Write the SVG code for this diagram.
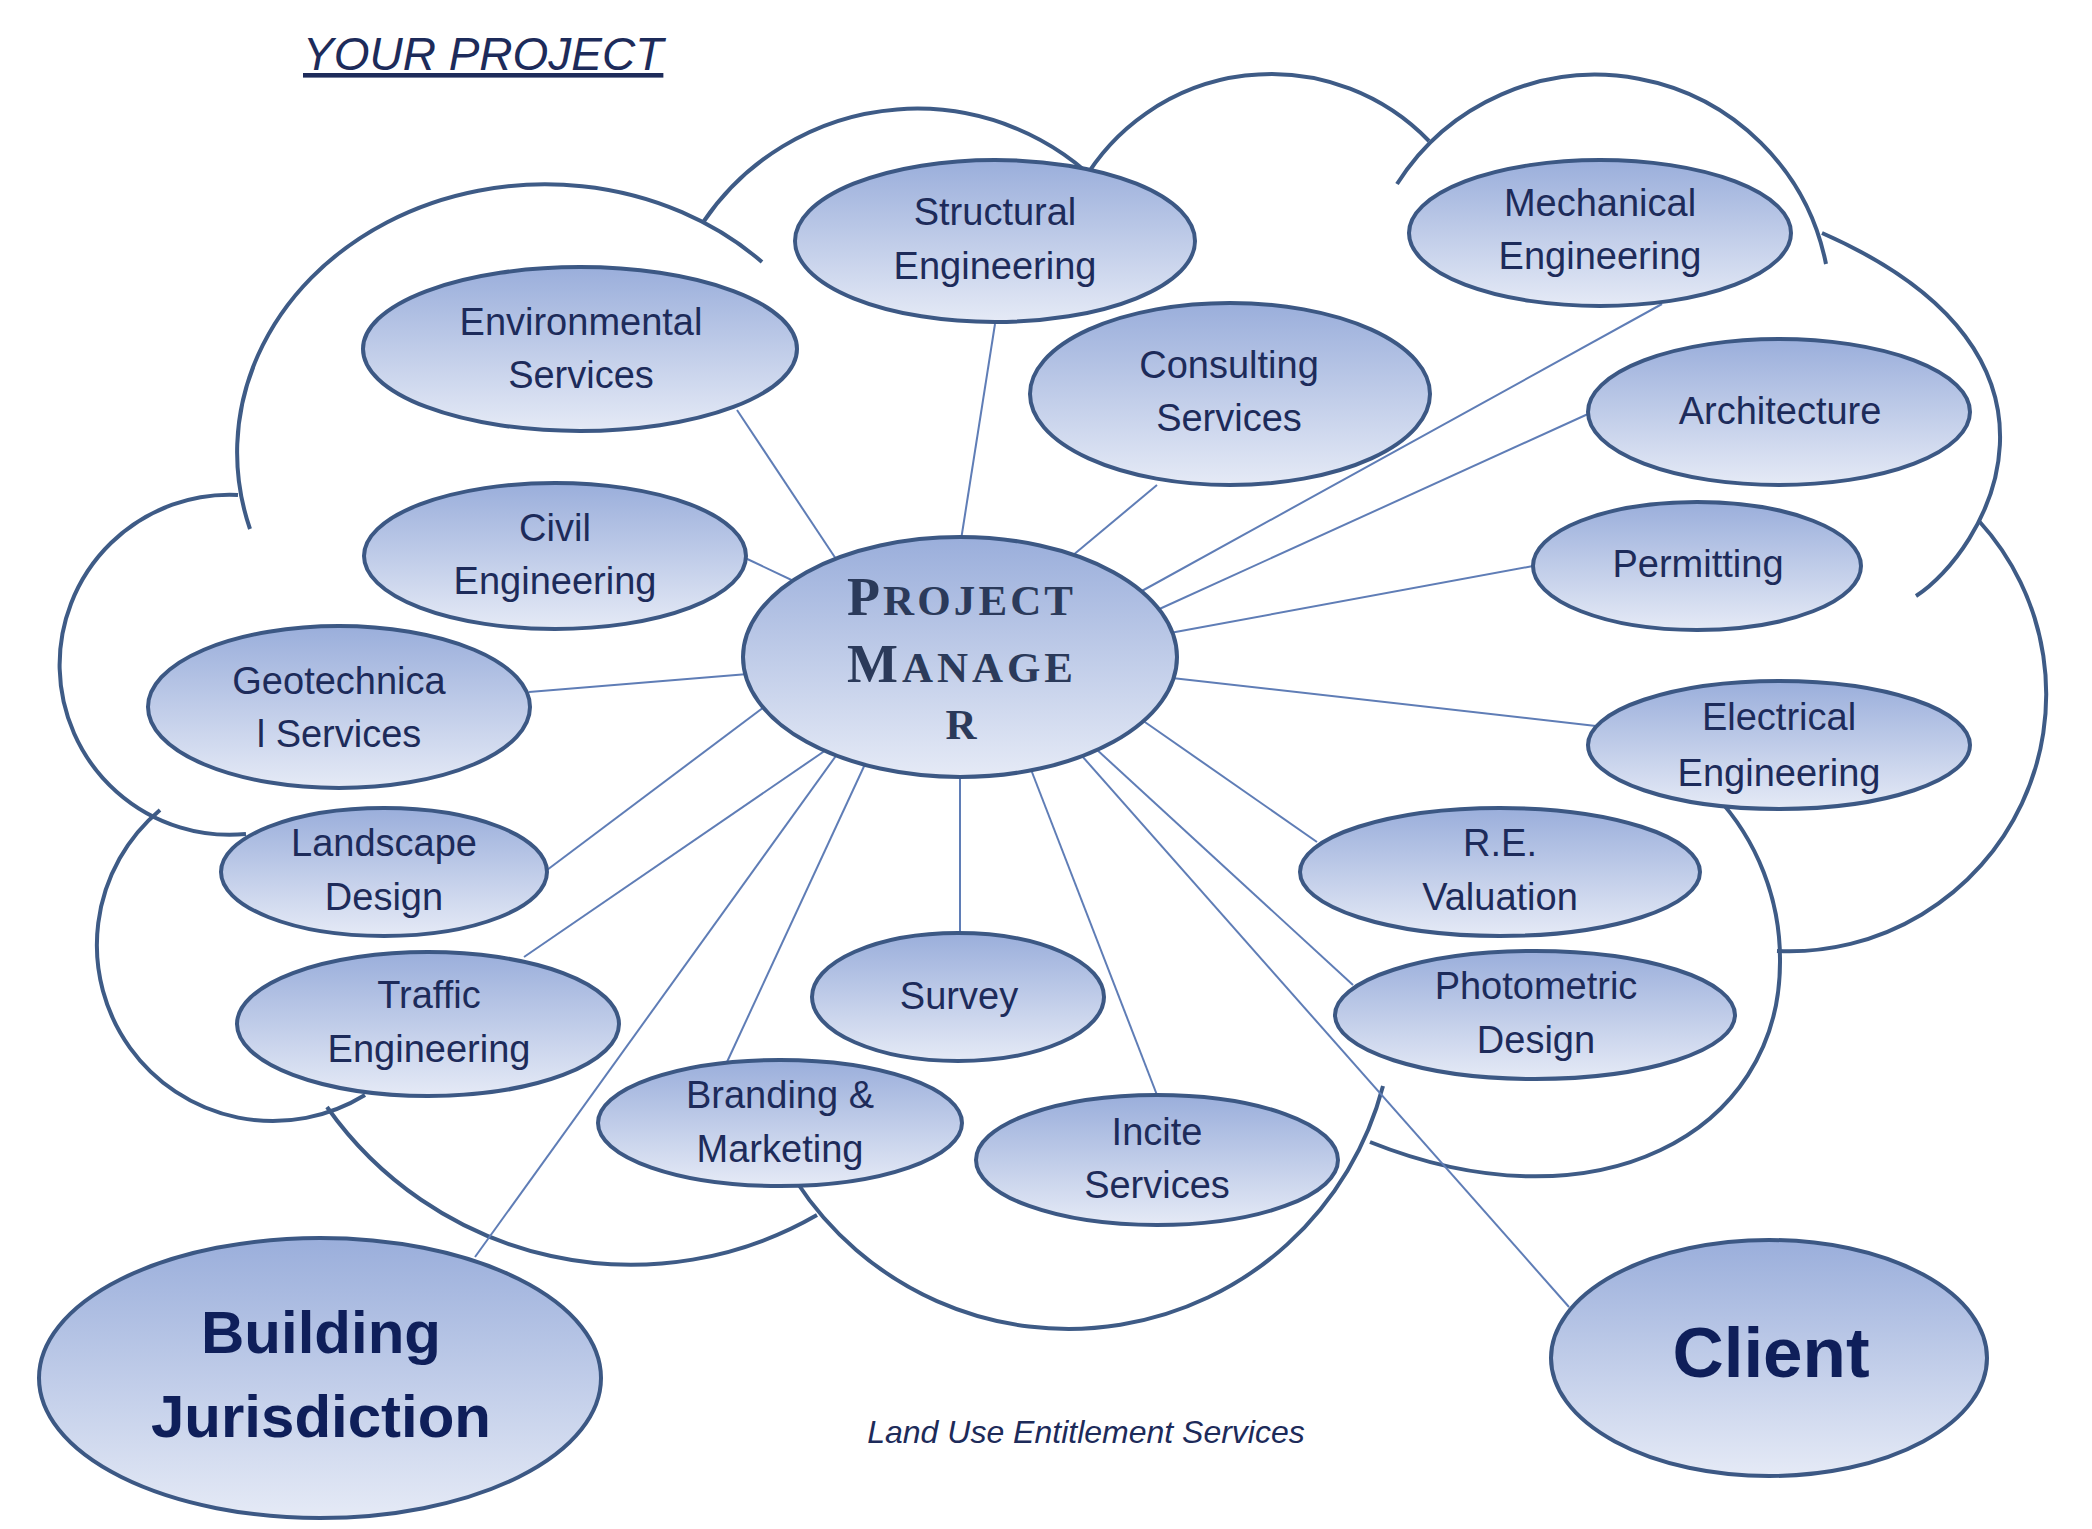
<svg xmlns="http://www.w3.org/2000/svg" width="2092" height="1529" viewBox="0 0 2092 1529">
<defs>
<linearGradient id="g" x1="0" y1="0" x2="0" y2="1">
<stop offset="0" stop-color="#9aaedb"/>
<stop offset="1" stop-color="#e5eaf6"/>
</linearGradient>
<style>
.cloud path{fill:none;stroke:#3e5b86;stroke-width:4;stroke-linecap:butt}
.conn line{stroke:#5f7db6;stroke-width:2}
.node ellipse{fill:url(#g);stroke:#3c5884;stroke-width:4}
.lbl{font-family:"Liberation Sans",Arial,sans-serif;font-size:38px;fill:#1d2b5a;text-anchor:middle}
.big{font-family:"Liberation Sans",Arial,sans-serif;font-weight:bold;fill:#0f1f5a;text-anchor:middle}
.pm{font-family:"Liberation Serif","Times New Roman",serif;font-weight:bold;fill:#2b3a5a;text-anchor:middle}
.cap{font-size:54px}
.sc{font-size:43px}
.note{font-family:"Liberation Sans",Arial,sans-serif;font-style:italic;fill:#1d2b5a}
</style>
</defs>
<rect width="2092" height="1529" fill="#ffffff"/>
<text class="note" x="303" y="70" font-size="46" text-decoration="underline">YOUR PROJECT</text>
<g class="cloud" id="cloud">
<path d="M 250 529 A 308 268 0 0 1 762 262"/>
<path d="M 704 221 A 258 258 0 0 1 1105 190"/>
<path d="M 1082 183 A 219 219 0 0 1 1429 141"/>
<path d="M 1397 184 A 235 235 0 0 1 1826 264"/>
<path d="M 1822 233 C 2104 357 1983 553 1916 596"/>
<path d="M 1979 521 A 257 257 0 0 1 1777 951"/>
<path d="M 1715 795 A 240 240 0 0 1 1780 962 C 1780 1133 1597 1233 1370 1142"/>
<path d="M 796 1181 A 325 325 0 0 0 1383 1086"/>
<path d="M 327 1107 A 372 372 0 0 0 817 1215"/>
<path d="M 160 810 A 176 176 0 0 0 365 1095"/>
<path d="M 238 495 A 170 170 0 1 0 246 834"/>
</g>
<g class="conn" id="connectors">
<line x1="961" y1="540" x2="995" y2="324"/>
<line x1="737" y1="410" x2="838" y2="562"/>
<line x1="743" y1="557" x2="800" y2="584"/>
<line x1="529" y1="692" x2="748" y2="674"/>
<line x1="1157" y1="485" x2="1072" y2="556"/>
<line x1="1662" y1="304" x2="1140" y2="592"/>
<line x1="1588" y1="414" x2="1155" y2="611"/>
<line x1="1533" y1="566" x2="1170" y2="633"/>
<line x1="1596" y1="726" x2="1172" y2="678"/>
<line x1="1317" y1="842" x2="1142" y2="720"/>
<line x1="1353" y1="985" x2="1095" y2="748"/>
<line x1="1569" y1="1307" x2="1082" y2="756"/>
<line x1="1157" y1="1095" x2="1030" y2="767"/>
<line x1="960" y1="932" x2="960" y2="774"/>
<line x1="727" y1="1062" x2="866" y2="762"/>
<line x1="475" y1="1257" x2="838" y2="753"/>
<line x1="524" y1="957" x2="826" y2="750"/>
<line x1="547" y1="870" x2="764" y2="707"/>
</g>
<g class="node" id="structural"><ellipse cx="995" cy="241" rx="200" ry="81"/><text class="lbl" x="995" y="225">Structural</text><text class="lbl" x="995" y="279">Engineering</text></g>
<g class="node" id="environmental"><ellipse cx="580" cy="349" rx="217" ry="82"/><text class="lbl" x="581" y="335">Environmental</text><text class="lbl" x="581" y="388">Services</text></g>
<g class="node" id="civil"><ellipse cx="555" cy="556" rx="191" ry="73"/><text class="lbl" x="555" y="541">Civil</text><text class="lbl" x="555" y="594">Engineering</text></g>
<g class="node" id="geotechnical"><ellipse cx="339" cy="707" rx="191" ry="81"/><text class="lbl" x="339" y="694">Geotechnica</text><text class="lbl" x="339" y="747">l Services</text></g>
<g class="node" id="consulting"><ellipse cx="1230" cy="394" rx="200" ry="91"/><text class="lbl" x="1229" y="378">Consulting</text><text class="lbl" x="1229" y="431">Services</text></g>
<g class="node" id="mechanical"><ellipse cx="1600" cy="233" rx="191" ry="73"/><text class="lbl" x="1600" y="216">Mechanical</text><text class="lbl" x="1600" y="269">Engineering</text></g>
<g class="node" id="architecture"><ellipse cx="1779" cy="412" rx="191" ry="73"/><text class="lbl" x="1780" y="424">Architecture</text></g>
<g class="node" id="permitting"><ellipse cx="1697" cy="566" rx="164" ry="64"/><text class="lbl" x="1698" y="577">Permitting</text></g>
<g class="node" id="electrical"><ellipse cx="1779" cy="745" rx="191" ry="64"/><text class="lbl" x="1779" y="730">Electrical</text><text class="lbl" x="1779" y="786">Engineering</text></g>
<g class="node" id="re-valuation"><ellipse cx="1500" cy="872" rx="200" ry="64"/><text class="lbl" x="1500" y="856">R.E.</text><text class="lbl" x="1500" y="910">Valuation</text></g>
<g class="node" id="photometric"><ellipse cx="1535" cy="1015" rx="200" ry="64"/><text class="lbl" x="1536" y="999">Photometric</text><text class="lbl" x="1536" y="1053">Design</text></g>
<g class="node" id="incite"><ellipse cx="1157" cy="1160" rx="181" ry="65"/><text class="lbl" x="1157" y="1145">Incite</text><text class="lbl" x="1157" y="1198">Services</text></g>
<g class="node" id="survey"><ellipse cx="958" cy="997" rx="146" ry="64"/><text class="lbl" x="959" y="1009">Survey</text></g>
<g class="node" id="branding"><ellipse cx="780" cy="1123" rx="182" ry="63"/><text class="lbl" x="780" y="1108">Branding &amp;</text><text class="lbl" x="780" y="1162">Marketing</text></g>
<g class="node" id="traffic"><ellipse cx="428" cy="1024" rx="191" ry="72"/><text class="lbl" x="429" y="1008">Traffic</text><text class="lbl" x="429" y="1062">Engineering</text></g>
<g class="node" id="landscape"><ellipse cx="384" cy="872" rx="163" ry="64"/><text class="lbl" x="384" y="856">Landscape</text><text class="lbl" x="384" y="910">Design</text></g>
<g class="node" id="project-manager"><ellipse cx="960" cy="657" rx="217" ry="120"/>
<text class="pm" x="960" y="615" textLength="226" lengthAdjust="spacing"><tspan class="cap">P</tspan><tspan class="sc">ROJECT</tspan></text>
<text class="pm" x="960" y="682" textLength="226" lengthAdjust="spacing"><tspan class="cap">M</tspan><tspan class="sc">ANAGE</tspan></text>
<text class="pm sc" x="961" y="739">R</text></g>
<g class="node" id="building-jurisdiction"><ellipse cx="320" cy="1378" rx="281" ry="140"/><text class="big" x="321" y="1353" font-size="60">Building</text><text class="big" x="321" y="1437" font-size="60">Jurisdiction</text></g>
<g class="node" id="client"><ellipse cx="1769" cy="1358" rx="218" ry="118"/><text class="big" x="1771" y="1377" font-size="71">Client</text></g>
<text class="note" x="1086" y="1443" font-size="32" text-anchor="middle">Land Use Entitlement Services</text>
</svg>
